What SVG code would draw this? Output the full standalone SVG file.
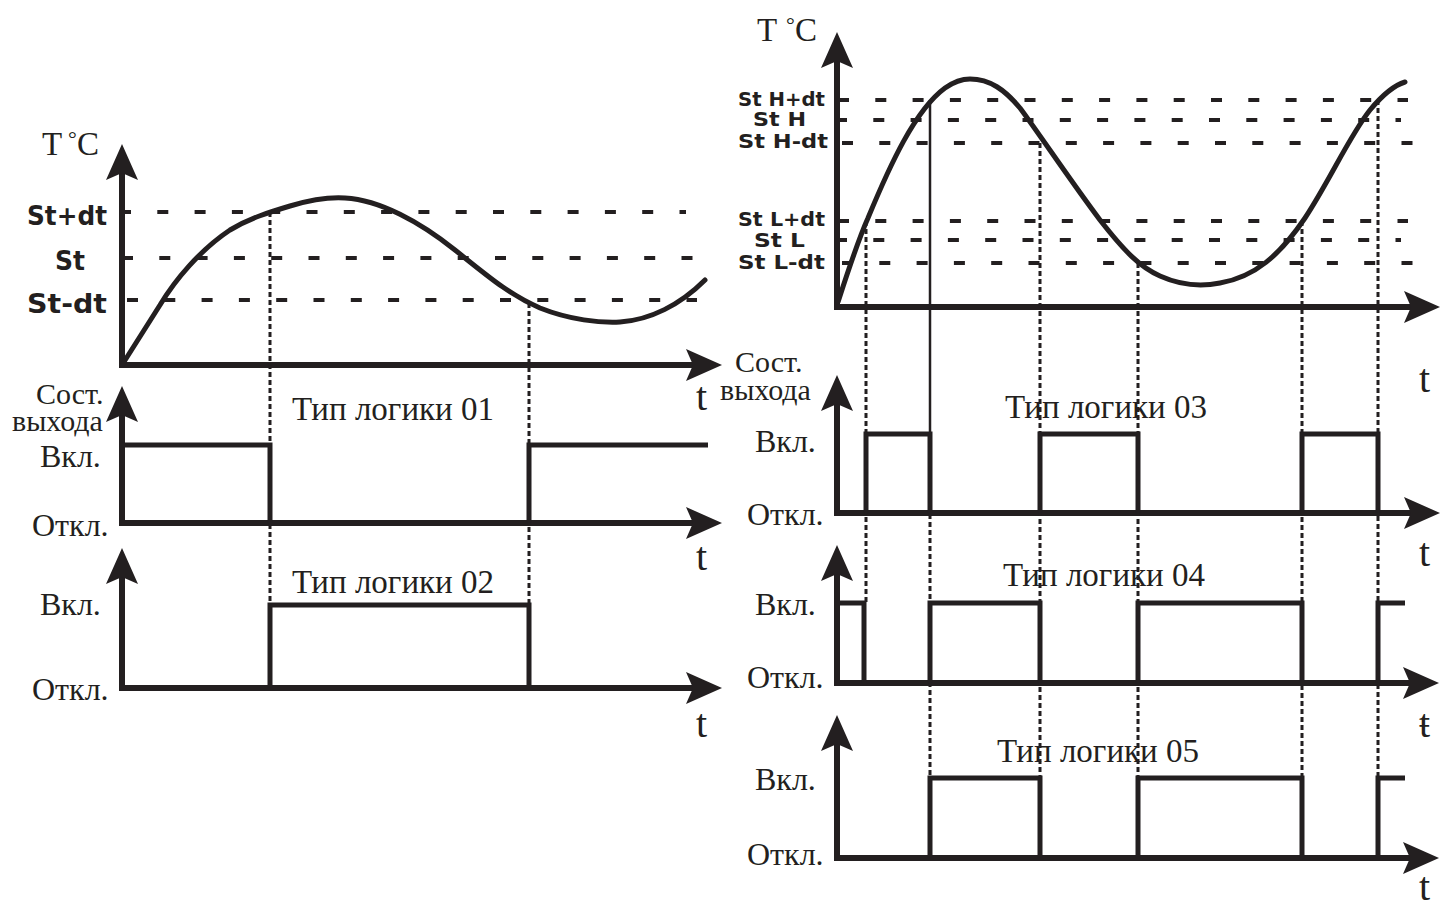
<svg xmlns="http://www.w3.org/2000/svg" width="1441" height="910" viewBox="0 0 1441 910">
<style>
.ax{fill:none;stroke:#231f20;stroke-width:6;stroke-linejoin:miter;marker-start:url(#ah);marker-end:url(#ah)}
.crv{fill:none;stroke:#231f20;stroke-width:5;stroke-linecap:round;stroke-linejoin:round}
.lvl{fill:none;stroke:#231f20;stroke-width:4;stroke-dasharray:11 26.3}
.pls{fill:none;stroke:#231f20;stroke-width:5;stroke-linejoin:miter}
.dot{fill:none;stroke:#231f20;stroke-width:3;stroke-dasharray:5 3}
.sol{fill:none;stroke:#231f20;stroke-width:2.5}
.lb{font-family:"Liberation Serif","Times New Roman",serif;font-size:32px;fill:#231f20}
.sm{font-size:30px}
.tt{font-family:"Liberation Serif","Times New Roman",serif;font-size:33px;fill:#231f20}
.t{font-family:"Liberation Serif","Times New Roman",serif;font-size:40px;fill:#231f20}
.st{font-family:"DejaVu Sans","Liberation Sans",sans-serif;font-weight:bold;font-size:26px;fill:#231f20}
.sr{font-family:"DejaVu Sans","Liberation Sans",sans-serif;font-weight:bold;font-size:19px;fill:#231f20}
</style>
<defs>
<marker id="ah" markerUnits="userSpaceOnUse" viewBox="0 -18 40 36" markerWidth="40" markerHeight="36" refX="7" refY="0" orient="auto-start-reverse">
<path d="M0,-16 L36,0 L0,16 L7,0 Z" fill="#231f20"/>
</marker>
</defs>
<rect width="1441" height="910" fill="#ffffff"/>

<g id="left-temperature">
<line class="lvl" x1="120" y1="212" x2="686" y2="212"/>
<line class="lvl" x1="122" y1="258" x2="693" y2="258"/>
<line class="lvl" x1="127" y1="300" x2="697" y2="300"/>
<path class="ax" d="M122,173 V365 H693"/>
<path class="crv" d="M122,365 L160,305 C175,280 200,250 230,230 C250,218 270,212 290,206 C310,200 330,197 345,198 C380,200 420,222 455,250 C490,278 510,295 540,308 C570,320 600,323 620,322 C650,320 680,305 705,280"/>
<text class="tt" x="42" y="155">T <tspan x="68" dy="-9" font-size="22">°</tspan><tspan x="77" dy="9">C</tspan></text>
<text class="st" x="27" y="225" textLength="80" lengthAdjust="spacingAndGlyphs">St+dt</text>
<text class="st" x="55" y="270" textLength="30" lengthAdjust="spacingAndGlyphs">St</text>
<text class="st" x="27" y="313" textLength="80" lengthAdjust="spacingAndGlyphs">St-dt</text>
<text class="t" x="696" y="410">t</text>
</g>

<g id="left-logic01">
<path class="ax" d="M122,415 V523 H693"/>
<path class="pls" d="M122,445 H270 V523 M529,523 V445 H708"/>
<text class="lb sm" x="36" y="404">Сост.<tspan x="12" dy="27">выхода</tspan></text>
<text class="lb" x="40" y="467">Вкл.</text>
<text class="lb" x="32" y="536">Откл.</text>
<text class="tt" x="292" y="420">Тип логики 01</text>
<text class="t" x="696" y="570">t</text>
</g>

<g id="left-logic02">
<path class="ax" d="M122,577 V688 H693"/>
<path class="pls" d="M270,688 V605 H529 V688"/>
<text class="lb" x="40" y="615">Вкл.</text>
<text class="lb" x="32" y="700">Откл.</text>
<text class="tt" x="292" y="593">Тип логики 02</text>
<text class="t" x="696" y="737">t</text>
</g>

<g id="right-temperature">
<line class="lvl" x1="838" y1="100" x2="1408" y2="100"/>
<line class="lvl" x1="836" y1="120" x2="1401" y2="120"/>
<line class="lvl" x1="842" y1="143" x2="1413" y2="143"/>
<line class="lvl" x1="838" y1="221" x2="1408" y2="221"/>
<line class="lvl" x1="836" y1="240" x2="1401" y2="240"/>
<line class="lvl" x1="842" y1="263" x2="1413" y2="263"/>
<path class="ax" d="M837,61 V307 H1411"/>
<path class="crv" d="M838,302 C850,265 858,240 868,218 C890,165 915,110 945,88 C955,81 962,79 970,79 C990,79 1005,90 1020,108 C1040,135 1070,180 1100,220 C1125,252 1140,267 1160,276 C1180,285 1200,287 1220,283 C1255,277 1280,255 1305,218 C1330,180 1350,135 1370,110 C1385,92 1395,85 1405,82"/>
<text class="tt" x="757" y="41">T <tspan x="786" dy="-9" font-size="22">°</tspan><tspan x="795" dy="9">C</tspan></text>
<text class="sr" x="738" y="106" textLength="87" lengthAdjust="spacingAndGlyphs">St H+dt</text>
<text class="sr" x="753" y="126" textLength="53" lengthAdjust="spacingAndGlyphs">St H</text>
<text class="sr" x="738" y="148" textLength="90" lengthAdjust="spacingAndGlyphs">St H-dt</text>
<text class="sr" x="738" y="226" textLength="87" lengthAdjust="spacingAndGlyphs">St L+dt</text>
<text class="sr" x="754" y="247" textLength="51" lengthAdjust="spacingAndGlyphs">St L</text>
<text class="sr" x="738" y="269" textLength="87" lengthAdjust="spacingAndGlyphs">St L-dt</text>
<text class="t" x="1419" y="392">t</text>
</g>

<g id="right-logic03">
<path class="ax" d="M837,404 V513 H1411"/>
<path class="pls" d="M866,513 V434 H930 V513 M1040,513 V434 H1138 V513 M1302,513 V434 H1378 V513"/>
<text class="lb sm" x="735" y="372">Сост.<tspan x="720" dy="28">выхода</tspan></text>
<text class="lb" x="755" y="452">Вкл.</text>
<text class="lb" x="747" y="525">Откл.</text>
<text class="tt" x="1005" y="418">Тип логики 03</text>
<text class="t" x="1419" y="566">t</text>
</g>

<g id="right-logic04">
<path class="ax" d="M837,574 V683 H1410"/>
<path class="pls" d="M837,603 H864 V683 M930,683 V603 H1040 V683 M1138,683 V603 H1302 V683 M1378,683 V603 H1405"/>
<text class="lb" x="755" y="615">Вкл.</text>
<text class="lb" x="747" y="688">Откл.</text>
<text class="tt" x="1003" y="586">Тип логики 04</text>
<text class="t" x="1419" y="737">ŧ</text>
</g>

<g id="right-logic05">
<path class="ax" d="M837,744 V858 H1410"/>
<path class="pls" d="M930,858 V778 H1040 V858 M1138,858 V778 H1302 V858 M1378,858 V778 H1405"/>
<text class="lb" x="755" y="790">Вкл.</text>
<text class="lb" x="747" y="865">Откл.</text>
<text class="tt" x="997" y="762">Тип логики 05</text>
<text class="t" x="1419" y="900" font-size="38">t</text>
</g>

<g id="connectors">
<line class="dot" x1="270" y1="212" x2="270" y2="605"/>
<line class="dot" x1="529" y1="303" x2="529" y2="605"/>
<line class="dot" x1="866" y1="221" x2="866" y2="603"/>
<line class="sol" x1="930" y1="100" x2="930" y2="434"/>
<line class="dot" x1="930" y1="434" x2="930" y2="778"/>
<line class="dot" x1="1040" y1="143" x2="1040" y2="778"/>
<line class="dot" x1="1138" y1="263" x2="1138" y2="778"/>
<line class="dot" x1="1302" y1="221" x2="1302" y2="778"/>
<line class="dot" x1="1378" y1="100" x2="1378" y2="778"/>
</g>
</svg>
